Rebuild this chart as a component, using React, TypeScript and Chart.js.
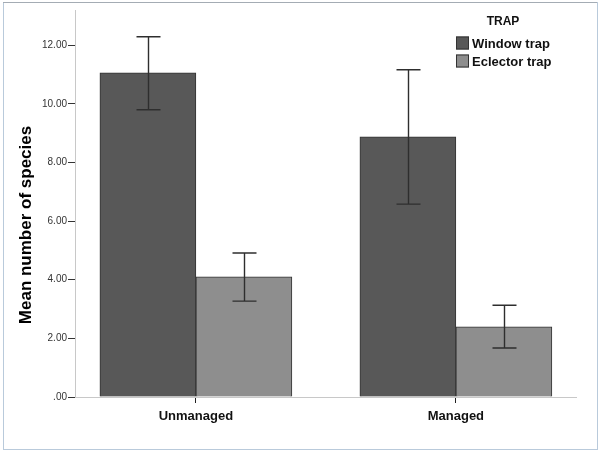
import React, { useEffect, useRef } from "react";
import { Chart, registerables } from "chart.js";

Chart.register(...registerables);

const categories = ["Unmanaged", "Managed"];
const seriesNames = ["Window trap", "Eclector trap"];
const windowMeans = [11.06, 8.87];
const windowLow = [9.8, 6.58];
const windowHigh = [12.29, 11.16];
const eclectorMeans = [4.1, 2.39];
const eclectorLow = [3.27, 1.67];
const eclectorHigh = [4.91, 3.13];
const yTicks = [0, 2, 4, 6, 8, 10, 12];
const legendTitle = "TRAP";
const yTitle = "Mean number of species";

const seriesColors = ["#585858", "#8e8e8e"];
const FONT = "'Liberation Sans', Arial, sans-serif";

const frameP = {
  id: "frame",
  beforeDraw(chart: any) {
    const ctx = chart.ctx;
    ctx.save();
    ctx.fillStyle = "#ffffff";
    ctx.fillRect(0, 0, chart.width, chart.height);
    ctx.strokeStyle = "#b9cadb";
    ctx.lineWidth = 1;
    ctx.strokeRect(3.5, 2.5, chart.width - 6, chart.height - 4);
    ctx.strokeStyle = "#a4acb4";
    ctx.beginPath();
    ctx.moveTo(3, 2.5);
    ctx.lineTo(chart.width - 3, 2.5);
    ctx.stroke();
    ctx.restore();
  },
};

const errorBarP = {
  id: "errorBars",
  afterDatasetsDraw(chart: any) {
    const ctx = chart.ctx;
    const y = chart.scales.y;
    const lows = [windowLow, eclectorLow];
    const highs = [windowHigh, eclectorHigh];
    chart.data.datasets.forEach((_: any, di: number) => {
      const meta = chart.getDatasetMeta(di);
      meta.data.forEach((bar: any, i: number) => {
        const x = Math.round(bar.x) + 0.5;
        const yl = y.getPixelForValue(lows[di][i]);
        const yh = y.getPixelForValue(highs[di][i]);
        ctx.save();
        ctx.strokeStyle = "#2e2e2e";
        ctx.lineWidth = 1.4;
        ctx.beginPath();
        ctx.moveTo(x, yh);
        ctx.lineTo(x, yl);
        ctx.moveTo(x - 12, yh);
        ctx.lineTo(x + 12, yh);
        ctx.moveTo(x - 12, yl);
        ctx.lineTo(x + 12, yl);
        ctx.stroke();
        ctx.restore();
      });
    });
  },
};

const textP = {
  id: "texts",
  afterDraw(chart: any) {
    const ctx = chart.ctx;
    ctx.save();
    ctx.translate(26, 225);
    ctx.rotate(-Math.PI / 2);
    ctx.fillStyle = "#000";
    ctx.font = `bold 17px ${FONT}`;
    ctx.textAlign = "center";
    ctx.textBaseline = "middle";
    ctx.fillText(yTitle, 0, 0);
    ctx.restore();

    ctx.save();
    ctx.fillStyle = "#111";
    ctx.font = `bold 12px ${FONT}`;
    ctx.textAlign = "center";
    ctx.textBaseline = "middle";
    ctx.fillText(legendTitle, 503, 22);
    ctx.font = `bold 13px ${FONT}`;
    ctx.textAlign = "left";
    seriesNames.forEach((name, i) => {
      const cy = 43 + i * 18;
      ctx.fillStyle = seriesColors[i];
      ctx.fillRect(456, cy - 6.5, 13, 13);
      ctx.strokeStyle = "#333";
      ctx.lineWidth = 1;
      ctx.strokeRect(456.5, cy - 6, 12, 12);
      ctx.fillStyle = "#111";
      ctx.fillText(name, 472, cy + 1);
    });
    ctx.restore();
  },
};

export default function App() {
  const ref = useRef<HTMLCanvasElement | null>(null);
  useEffect(() => {
    if (!ref.current) return;
    const chart = new Chart(ref.current, {
      type: "bar",
      data: {
        datasets: [
          {
            label: seriesNames[0],
            data: windowMeans.map((v, i) => ({ x: i, y: v })),
            backgroundColor: seriesColors[0],
            borderColor: "#333",
            borderWidth: 1,
          },
          {
            label: seriesNames[1],
            data: eclectorMeans.map((v, i) => ({ x: i, y: v })),
            backgroundColor: seriesColors[1],
            borderColor: "#333",
            borderWidth: 1,
          },
        ],
      },
      options: {
        animation: false,
        responsive: false,
        maintainAspectRatio: false,
        barThickness: 96,
        layout: { padding: { left: 0, right: 24, top: 10, bottom: 0 } },
        plugins: {
          legend: { display: false },
          tooltip: { enabled: false },
          title: { display: false },
        },
        scales: {
          x: {
            type: "linear",
            offset: false,
            min: -0.465,
            max: 1.462,
            afterBuildTicks: (s: any) => {
              s.ticks = categories.map((_, i) => ({ value: i }));
            },
            afterFit: (s: any) => {
              s.height = 54;
            },
            ticks: {
              callback: (v: any) => categories[v] ?? "",
              font: { family: FONT, size: 13, weight: "bold" },
              color: "#111",
              padding: 6,
              maxRotation: 0,
              autoSkip: false,
            },
            grid: { offset: false, drawOnChartArea: false, tickLength: 6, tickColor: "#222" },
            border: { color: "#c8c8c8", width: 1 },
          },
          y: {
            min: 0,
            max: 13.2,
            afterBuildTicks: (s: any) => {
              s.ticks = yTicks.map((v) => ({ value: v }));
            },
            afterFit: (s: any) => {
              s.width = 75;
            },
            ticks: {
              callback: (v: any) => (v === 0 ? ".00" : Number(v).toFixed(2)),
              font: { family: FONT, size: 10 },
              color: "#333",
              padding: 1,
            },
            grid: { drawOnChartArea: false, tickLength: 7, tickColor: "#333" },
            border: { color: "#c8c8c8", width: 1 },
          },
        },
      } as any,
      plugins: [frameP, errorBarP, textP],
    });
    return () => chart.destroy();
  }, []);
  return (
    <div style={{ position: "absolute", left: 0, top: 0, width: 600, height: 451 }}>
      <canvas ref={ref} width={600} height={451} style={{ width: 600, height: 451, display: "block" }} />
    </div>
  );
}
